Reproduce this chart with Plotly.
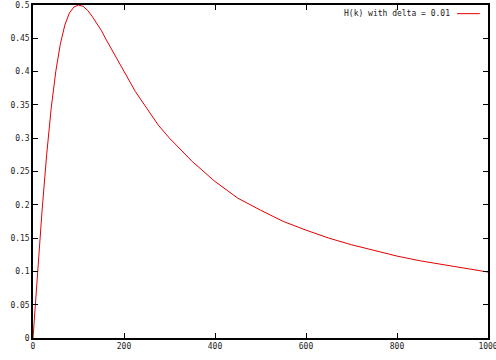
import plotly.graph_objects as go

# Values
k_values = [0, 10, 20, 30, 40, 50, 60, 70, 80, 90, 100, 110, 120, 130, 140, 150,
            160, 180, 200, 225, 250, 275, 300, 350, 400, 450, 500, 550, 600, 650,
            700, 750, 800, 850, 900, 950, 1000]
h_values = [0, 0.099, 0.192, 0.275, 0.345, 0.400, 0.441, 0.470, 0.488, 0.497, 0.500,
            0.498, 0.492, 0.483, 0.473, 0.462, 0.449, 0.424, 0.400, 0.370, 0.345,
            0.320, 0.300, 0.265, 0.235, 0.210, 0.192, 0.175, 0.162, 0.150, 0.140,
            0.131, 0.123, 0.116, 0.110, 0.104, 0.099]
x_ticks = [0, 200, 400, 600, 800, 1000]
x_tick_labels = ["0", "200", "400", "600", "800", "1000"]
y_ticks = [0, 0.05, 0.1, 0.15, 0.2, 0.25, 0.3, 0.35, 0.4, 0.45, 0.5]
y_tick_labels = ["0", "0.05", "0.1", "0.15", "0.2", "0.25", "0.3", "0.35", "0.4", "0.45", "0.5"]
legend_label = "H(k) with delta = 0.01"

font = dict(family="DejaVu Sans Mono", size=8, color="#222222")

fig = go.Figure()
fig.add_trace(go.Scatter(x=k_values, y=h_values, mode="lines",
                         line=dict(color="rgb(230,0,0)", width=1),
                         name=legend_label, showlegend=False))

axis_common = dict(showline=True, linecolor="black", linewidth=1.5, mirror="ticks",
                   ticks="inside", ticklen=5, tickcolor="black", tickwidth=1,
                   showgrid=False, zeroline=False, tickfont=font, automargin=False,
                   ticklabeloverflow="allow")

fig.update_layout(
    width=496, height=360,
    margin=dict(l=33, r=8, t=5, b=22),
    plot_bgcolor="white", paper_bgcolor="white",
    xaxis=dict(range=[0, 1000], tickvals=x_ticks, ticktext=x_tick_labels, **axis_common),
    yaxis=dict(range=[0, 0.5], tickvals=y_ticks, ticktext=y_tick_labels, **axis_common),
    font=font,
)

# gnuplot-style key: text on the left, line sample on the right
fig.add_annotation(x=0.921, y=0.974, xref="paper", yref="paper", text=legend_label,
                   showarrow=False, xanchor="right", yanchor="middle", font=font)
fig.add_shape(type="line", xref="paper", yref="paper", x0=0.932, x1=0.982,
              y0=0.974, y1=0.974, line=dict(color="rgb(230,0,0)", width=1))

fig.write_html("out.html", config={"displayModeBar": False},
               post_script="document.body.style.margin='0';document.body.style.overflow='hidden';")
